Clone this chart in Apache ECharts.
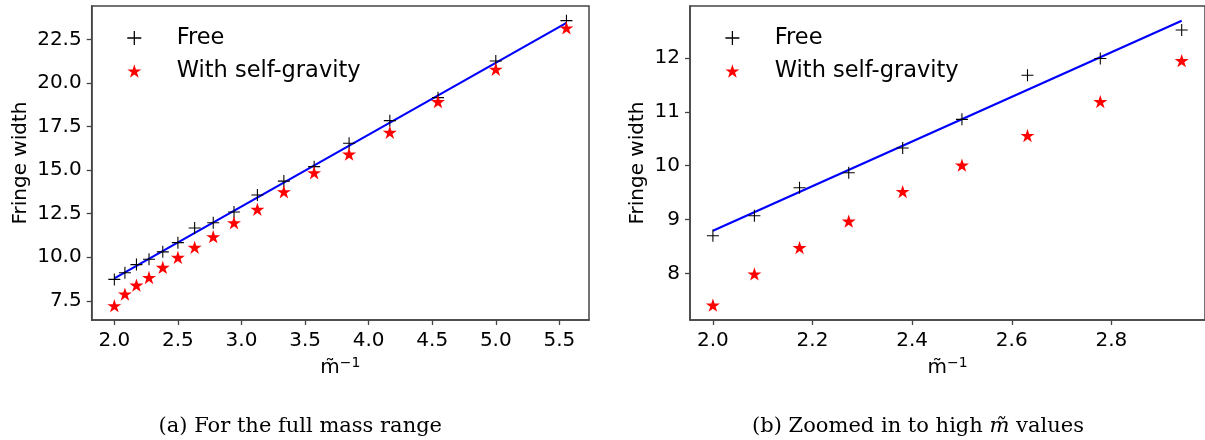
<!DOCTYPE html>
<html>
<head>
<meta charset="utf-8">
<script src="https://cdn.jsdelivr.net/npm/echarts@6/dist/echarts.min.js"></script>
<style>
html,body{margin:0;padding:0;background:#fff;}
#c{width:1205px;height:440px;}
</style>
</head>
<body>
<div id="c"></div>
<script>
// ---- data ----
const xFull = [2.0, 2.0833, 2.1739, 2.2727, 2.3810, 2.5, 2.6316, 2.7778, 2.9412, 3.125, 3.3333, 3.5714, 3.8462, 4.1667, 4.5455, 5.0, 5.5556];
const leftFree = [8.73, 9.11, 9.58, 9.89, 10.31, 10.84, 11.68, 11.98, 12.6, 13.57, 14.37, 15.2, 16.54, 17.84, 19.16, 21.26, 23.58];
const leftGravity = [7.22, 7.89, 8.40, 8.84, 9.42, 9.99, 10.57, 11.18, 11.98, 12.75, 13.76, 14.85, 15.92, 17.17, 18.93, 20.79, 23.16];
const leftFitX = [2.0, 5.5556];
const leftFitY = [8.79, 23.45];

const xZoom = [2.0, 2.0833, 2.1739, 2.2727, 2.3810, 2.5, 2.6316, 2.7778, 2.9412];
const rightFree = [8.70, 9.07, 9.59, 9.87, 10.33, 10.86, 11.68, 11.99, 12.52];
const rightGravity = [7.41, 7.99, 8.48, 8.97, 9.52, 10.01, 10.56, 11.19, 11.95];
const rightFitX = [2.0, 2.9412];
const rightFitY = [8.79, 12.69];

const leftXTicks = [2.0, 2.5, 3.0, 3.5, 4.0, 4.5, 5.0, 5.5];
const leftYTicks = [7.5, 10.0, 12.5, 15.0, 17.5, 20.0, 22.5];
const rightXTicks = [2.0, 2.2, 2.4, 2.6, 2.8];
const rightYTicks = [8, 9, 10, 11, 12];

const seriesNames = ['Free', 'With self-gravity'];
const captionA = '(a) For the full mass range';
const captionB = ['(b) Zoomed in to high ', 'm\u0303', ' values'];
const xLabelBase = 'm\u0303';
const xLabelSup = '\u22121';
const yLabel = 'Fringe width';

// ---- styling ----
const PLUS = 'path://M-0.09,-1L0.09,-1L0.09,-0.09L1,-0.09L1,0.09L0.09,0.09L0.09,1L-0.09,1L-0.09,0.09L-1,0.09L-1,-0.09L-0.09,-0.09Z';
const STAR = 'path://M0,-1L0.2245,-0.309L0.951,-0.309L0.3633,0.118L0.588,0.809L0,0.382L-0.588,0.809L-0.3633,0.118L-0.951,-0.309L-0.2245,-0.309Z';
const FRAME = '#444';
const FONT = 'DejaVu Sans';

function zip(xs, ys) { return xs.map((x, i) => [x, ys[i]]); }

function xAxis(gi, min, max, ticks, fmt) {
  return {
    type: 'value', gridIndex: gi, min: min, max: max,
    name: '{a|' + xLabelBase + '}{s|' + xLabelSup + '}', nameLocation: 'middle', nameGap: 29,
    nameTextStyle: {fontFamily: FONT, fontSize: 20, color: '#000',
      rich: {a: {fontFamily: FONT, fontSize: 20, color: '#000', lineHeight: 24},
             s: {fontFamily: FONT, fontSize: 14, color: '#000', verticalAlign: 'top', lineHeight: 14}}},
    axisLine: {show: true, onZero: false, lineStyle: {color: FRAME, width: 1.5}},
    axisTick: {show: true, length: 5, customValues: ticks, lineStyle: {color: FRAME, width: 1.3}},
    axisLabel: {customValues: ticks, margin: 11, fontFamily: FONT, fontSize: 20, color: '#000', formatter: fmt},
    splitLine: {show: false}
  };
}
function yAxis(gi, min, max, ticks, fmt, gap) {
  return {
    type: 'value', gridIndex: gi, min: min, max: max,
    name: yLabel, nameLocation: 'middle', nameGap: gap,
    nameTextStyle: {fontFamily: FONT, fontSize: 20, color: '#000'},
    axisLine: {show: true, onZero: false, lineStyle: {color: FRAME, width: 1.5}},
    axisTick: {show: true, length: 5, customValues: ticks, lineStyle: {color: FRAME, width: 1.3}},
    axisLabel: {customValues: ticks, margin: 10, fontFamily: FONT, fontSize: 20, color: '#000', formatter: fmt},
    splitLine: {show: false}
  };
}
function legend(left) {
  return {
    orient: 'vertical', left: left, top: 25, padding: 0,
    itemWidth: 14, itemHeight: 14, itemGap: 7, symbolKeepAspect: true,
    data: [{name: seriesNames[0], icon: PLUS}, {name: seriesNames[1], icon: STAR}],
    formatter: '{p| }{name}',
    textStyle: {fontFamily: FONT, fontSize: 22.5, color: '#000', lineHeight: 26,
      rich: {p: {width: 30.4, fontSize: 22.5, lineHeight: 26}}},
    selectedMode: false
  };
}
function seriesFor(gi, xs, free, grav, fx, fy) {
  return [
    {type: 'line', xAxisIndex: gi, yAxisIndex: gi, data: zip(fx, fy), showSymbol: false, symbol: 'none',
     lineStyle: {color: '#0000ff', width: 2.2}, silent: true, z: 2},
    {type: 'scatter', name: seriesNames[0], xAxisIndex: gi, yAxisIndex: gi, data: zip(xs, free),
     symbol: PLUS, symbolSize: 12, symbolKeepAspect: true, itemStyle: {color: '#000', opacity: 1}, z: 3},
    {type: 'scatter', name: seriesNames[1], xAxisIndex: gi, yAxisIndex: gi, data: zip(xs, grav),
     symbol: STAR, symbolSize: 14, symbolKeepAspect: true, itemStyle: {color: '#ff0000', opacity: 1}, z: 3}
  ];
}

const chart = echarts.init(document.getElementById('c'), null, {renderer: 'canvas'});
chart.setOption({
  animation: false,
  backgroundColor: '#fff',
  grid: [
    {left: 91.7, top: 6, width: 497.3, height: 314, show: true, borderColor: FRAME, borderWidth: 1.5, containLabel: false},
    {left: 690, top: 6, width: 517, height: 314, show: true, borderColor: FRAME, borderWidth: 1.5, containLabel: false}
  ],
  xAxis: [
    xAxis(0, 1.822, 5.733, leftXTicks, v => v.toFixed(1)),
    xAxis(1, 1.954, 2.988, rightXTicks, v => v.toFixed(1))
  ],
  yAxis: [
    yAxis(0, 6.40, 24.42, leftYTicks, v => v.toFixed(1), 61),
    yAxis(1, 7.135, 12.965, rightYTicks, v => String(Math.round(v)), 42)
  ],
  legend: [legend(127.3), legend(725.4)],
  series: [].concat(
    seriesFor(0, xFull, leftFree, leftGravity, leftFitX, leftFitY),
    seriesFor(1, xZoom, rightFree, rightGravity, rightFitX, rightFitY)
  ),
  graphic: [
    {type: 'text', x: 300.3, y: 427, style: {text: captionA, textAlign: 'center', textVerticalAlign: 'middle',
      fontFamily: 'DejaVu Serif', fontSize: 21, fill: '#000'}},
    {type: 'text', x: 918, y: 427, style: {text: '{n|' + captionB[0] + '}{i|' + captionB[1] + '}{n|' + captionB[2] + '}',
      textAlign: 'center', textVerticalAlign: 'middle', fontFamily: 'DejaVu Serif', fontSize: 21, fill: '#000',
      rich: {n: {fontFamily: 'DejaVu Serif', fontSize: 21, fill: '#000'}, i: {fontFamily: 'DejaVu Serif', fontStyle: 'italic', fontSize: 21, fill: '#000'}}}}
  ]
});
</script>
</body>
</html>
